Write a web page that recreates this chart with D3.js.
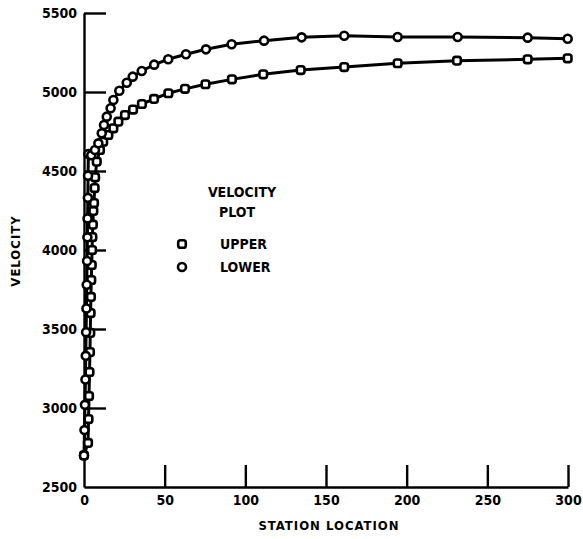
<!DOCTYPE html>
<html>
<head>
<meta charset="utf-8">
<script src="https://cdn.jsdelivr.net/npm/d3@7"></script>
<style>
  body { margin: 0; background: #fff; }
  svg text { font-family: "DejaVu Sans Condensed", "DejaVu Sans", sans-serif; font-weight: bold; fill: #000; }
</style>
</head>
<body>
<div id="chart"></div>
<script>
// station locations and velocities
var upperX = [0, 2.5, 2.8, 3.1, 3.4, 3.7, 3.9, 4.1, 4.3, 4.5, 4.8, 5.0, 5.2, 5.5, 5.8, 6.2, 6.6, 6.9, 7.9, 9.9,
              11.9, 15.1, 18.2, 21.3, 25.4, 30.4, 35.9, 43.4, 52.3, 62.6, 75.3, 91.7, 111.1, 134.3, 161.3, 194.4, 231.2, 275, 299.8];
var upperY = [2700, 2779, 2930, 3076, 3228, 3354, 3475, 3601, 3703, 3810, 3905, 4000, 4082, 4160, 4247, 4297, 4392, 4460, 4559, 4633,
              4685, 4728, 4770, 4812, 4854, 4889, 4924, 4956, 4992, 5020, 5049, 5080, 5112, 5139, 5158, 5182, 5198, 5207, 5213];
var lowerX = [0, 0.3, 0.6, 0.9, 1.1, 1.3, 1.5, 1.7, 1.9, 2.1, 2.2, 2.4, 2.5, 2.7, 4.5, 6.8, 8.9, 11.0, 12.4, 14.1, 16.5, 18.2,
              21.9, 26.5, 30.2, 35.8, 43.5, 52.2, 63.2, 75.6, 91.5, 111.6, 134.9, 161.3, 194.4, 231.6, 275.0, 299.8];
var lowerY = [2700, 2860, 3020, 3180, 3330, 3480, 3630, 3780, 3930, 4080, 4200, 4330, 4470, 4608, 4600, 4633, 4675, 4739, 4791, 4844, 4897, 4949,
              5008, 5059, 5097, 5133, 5173, 5207, 5239, 5270, 5302, 5325, 5346, 5356, 5348, 5348, 5344, 5337];
var xTicks = [0, 50, 100, 150, 200, 250, 300];
var yTicks = [2500, 3000, 3500, 4000, 4500, 5000, 5500];

var w = 583, h = 539;
var margin = {left: 84, right: 15, top: 13, bottom: 52};

var upper = upperX.map(function(x, i) { return {x: x, y: upperY[i]}; });
var lower = lowerX.map(function(x, i) { return {x: x, y: lowerY[i]}; });

var xScale = d3.scaleLinear().domain([0, 300]).range([margin.left, w - margin.right]);
var yScale = d3.scaleLinear().domain([2500, 5500]).range([h - margin.bottom, margin.top]);

var svg = d3.select("#chart").append("svg")
    .attr("width", w)
    .attr("height", h);

// axes with ticks pointing inward
var xAxis = d3.axisBottom(xScale).tickValues(xTicks).tickFormat(d3.format("d"))
    .tickSizeInner(-22).tickSizeOuter(0).tickPadding(8);
var yAxis = d3.axisLeft(yScale).tickValues(yTicks).tickFormat(d3.format("d"))
    .tickSizeInner(-22).tickSizeOuter(0).tickPadding(7);

var gx = svg.append("g")
    .attr("transform", "translate(0," + (h - margin.bottom) + ")")
    .call(xAxis);
var gy = svg.append("g")
    .attr("transform", "translate(" + margin.left + ",0)")
    .call(yAxis);

[gx, gy].forEach(function(g) {
  g.selectAll("path, line").attr("stroke", "#000").attr("stroke-width", 2.4);
  g.selectAll("text").style("font-size", "14px").attr("fill", "#000");
});
// no tick marks on the corner
gx.selectAll(".tick").filter(function(d) { return d === 0; }).select("line").remove();
gy.selectAll(".tick").filter(function(d) { return d === 2500; }).select("line").remove();

// lines
var line = d3.line()
    .x(function(d) { return xScale(d.x); })
    .y(function(d) { return yScale(d.y); });

[upper, lower].forEach(function(data) {
  svg.append("path")
      .datum(data)
      .attr("fill", "none")
      .attr("stroke", "#000")
      .attr("stroke-width", 3)
      .attr("d", line);
});

// markers
svg.selectAll(".sq")
    .data(upper)
    .enter()
    .append("rect")
    .attr("class", "sq")
    .attr("x", function(d) { return xScale(d.x) - 3.8; })
    .attr("y", function(d) { return yScale(d.y) - 3.8; })
    .attr("width", 7.6)
    .attr("height", 7.6)
    .attr("rx", 2.4)
    .attr("fill", "#fff")
    .attr("stroke", "#000")
    .attr("stroke-width", 2.6);

svg.selectAll(".ci")
    .data(lower)
    .enter()
    .append("circle")
    .attr("class", "ci")
    .attr("cx", function(d) { return xScale(d.x); })
    .attr("cy", function(d) { return yScale(d.y); })
    .attr("r", 4)
    .attr("fill", "#fff")
    .attr("stroke", "#000")
    .attr("stroke-width", 2.6);

// axis titles
svg.append("text")
    .attr("x", (margin.left + w - margin.right) / 2 + 3)
    .attr("y", 530)
    .attr("text-anchor", "middle")
    .style("font-size", "13px")
    .style("letter-spacing", "1px")
    .text("STATION LOCATION");

svg.append("text")
    .attr("transform", "translate(20,251) rotate(-90)")
    .attr("text-anchor", "middle")
    .style("font-size", "13px")
    .style("letter-spacing", "1px")
    .text("VELOCITY");

// legend
svg.append("text").attr("x", 242).attr("y", 197).attr("text-anchor", "middle")
    .style("font-size", "14px").text("VELOCITY");
svg.append("text").attr("x", 237).attr("y", 217).attr("text-anchor", "middle")
    .style("font-size", "14px").text("PLOT");

svg.append("rect")
    .attr("x", 182 - 3.8).attr("y", 244 - 3.8).attr("width", 7.6).attr("height", 7.6).attr("rx", 2.4)
    .attr("fill", "#fff").attr("stroke", "#000").attr("stroke-width", 2.6);
svg.append("circle")
    .attr("cx", 182).attr("cy", 267).attr("r", 4)
    .attr("fill", "#fff").attr("stroke", "#000").attr("stroke-width", 2.6);
svg.append("text").attr("x", 220).attr("y", 249).style("font-size", "14px").text("UPPER");
svg.append("text").attr("x", 220).attr("y", 272).style("font-size", "14px").text("LOWER");
</script>
</body>
</html>
